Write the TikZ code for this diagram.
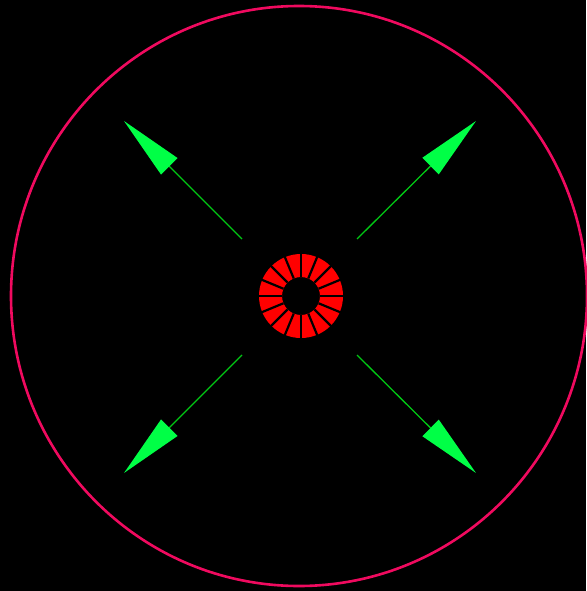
\documentclass[tikz,border=0pt]{standalone}
\usepackage{tikz}
\usetikzlibrary{arrows.meta, calc}
\usepackage{xcolor}
\definecolor{rimred}{RGB}{240, 10, 95}
\definecolor{corered}{RGB}{255, 0, 0}
\definecolor{headgreen}{RGB}{0, 255, 70}
\definecolor{shaftgreen}{RGB}{0, 200, 20}

\begin{document}
\begin{tikzpicture}[x=1pt, y=-1pt]
    \fill[black] (0, 0) rectangle (586, 591);
    \useasboundingbox (0, 0) rectangle (586, 591);
    \coordinate (c) at (299, 296);
    \draw[rimred, line width=2.6pt] (c) ellipse [x radius=288, y radius=290];
    % core ring
    \coordinate (core) at (301, 296);
    \fill[corered, even odd rule] (core) circle (42) (core) circle (19);
    \foreach \a in {0, 22.5, ..., 359} {
      \draw[black, line width=2.2pt] ($(core) + (\a:19)$) -- ($(core) + (\a:43)$);
    }
    % arrows
    \coordinate (nw0) at (242, 239); \coordinate (nw1) at (124, 121);
    \coordinate (ne0) at (357, 239); \coordinate (ne1) at (476, 121);
    \coordinate (sw0) at (242, 355); \coordinate (sw1) at (124, 473);
    \coordinate (se0) at (357, 355); \coordinate (se1) at (476, 473);
    \foreach \d in {nw, ne, sw, se} {
      \draw[shaftgreen, line width=1.3pt, -{Triangle[length=64pt, width=23pt, fill=headgreen, color=headgreen]}] (\d0) -- (\d1);
    }
  \end{tikzpicture}
\end{document}
